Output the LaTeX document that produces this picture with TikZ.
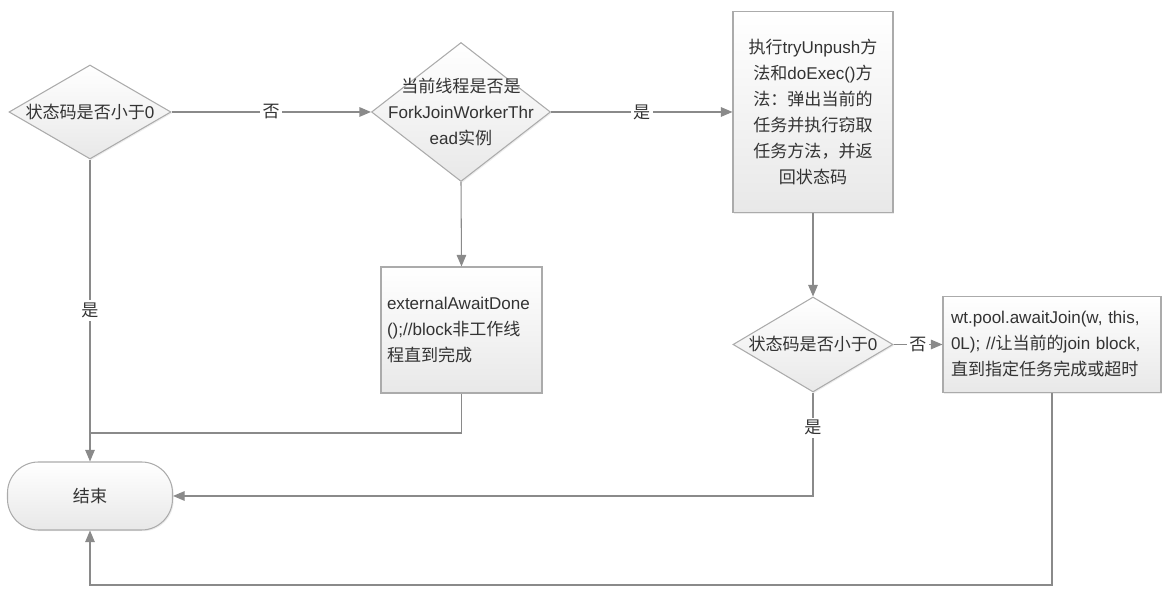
\documentclass[tikz,border=0pt]{standalone}
\usepackage{fontspec}
\setmainfont{Liberation Sans}
\newfontfamily\cjk{Noto Sans CJK SC}
\usetikzlibrary{shapes.geometric,arrows.meta,shadows}

\definecolor{linegray}{HTML}{8A8A8A}
\definecolor{boxgray}{HTML}{ABABAB}
\definecolor{textgray}{HTML}{333333}

\tikzset{
  box/.style={draw=boxgray, line width=0.6pt, top color=white, bottom color=black!9,
    inner sep=0pt, drop shadow={opacity=0.15, shadow xshift=0.7pt, shadow yshift=-0.7pt}},
  decision/.style={box, diamond},
  edgelbl/.style={fill=white, inner sep=1.5pt, font=\fontsize{9.7}{14.8}\cjk},
}

\begin{document}
\begin{tikzpicture}[scale=1.0, color=linegray, line width=0.6pt,
  >={Triangle[length=2.3mm,width=1.9mm]},
  every node/.style={text=textgray, font=\fontsize{9.7}{14.8}\selectfont}]
\useasboundingbox (0,0) rectangle (23.44,11.96);

% top row
\node[decision, minimum width=3.24cm, minimum height=1.88cm] (q1) at (1.80,9.72) {};
\node (q1t) at (q1) {{\cjk 状态码是否小于}0};
\node[decision, minimum width=3.58cm, minimum height=2.78cm] (q2) at (9.22,9.72) {};
\node[align=center] (q2t) at (q2) {{\cjk 当前线程是否是}\\ForkJoinWorkerThr\\ead{\cjk 实例}};
\node[box, minimum height=4.02cm, text width=3.2cm, align=center] (act) at (16.26,9.72)
  {{\cjk 执行}tryUnpush{\cjk 方}\\{\cjk 法和}doExec(){\cjk 方}\\{\cjk 法：弹出当前的}\\{\cjk 任务并执行窃取}\\{\cjk 任务方法，并返}\\{\cjk 回状态码}};

% middle row
\node[box, minimum height=2.52cm, inner xsep=0.12cm, text width=2.98cm, align=left] (ext) at (9.23,5.36)
  {externalAwaitDone\\();//block{\cjk 非工作线}\\{\cjk 程直到完成}};
\node[decision, minimum width=3.2cm, minimum height=1.9cm] (q3) at (16.26,5.07) {};
\node (q3t) at (q3) {{\cjk 状态码是否小于}0};
\node[box, minimum height=1.92cm, inner xsep=0.16cm, text width=4.04cm, align=left] (join) at (21.04,5.07)
  {wt.pool.awaitJoin(w, this,\\0L); //{\cjk 让当前的}join block,\\{\cjk 直到指定任务完成或超时}};

% end
\node[box, rounded corners=0.62cm, minimum width=3.3cm, minimum height=1.36cm] (end) at (1.80,2.04) {\cjk 结束};
\coordinate (mrg) at (1.80,3.30);
\coordinate (btm) at (1.80,0.26);

% connectors
\draw[->] (q1.east) -- node[edgelbl] {否} (q2.west);
\draw[->] (q2.east) -- node[edgelbl] {是} (act.west);
\draw[->] (q2.south) -- (ext.north);
\draw[->] (act.south) -- (q3.north);
\draw[->] (q3.east) -- node[edgelbl] {否} (join.west);
\draw[->] (q1.south) -- node[edgelbl] {是} (end.north);
\draw (ext.south) |- (mrg);
\draw[->] (q3.south) |- node[edgelbl, pos=0.17] {是} (end.east);
\draw[->] (join.south) |- (btm) -- (end.south);
\end{tikzpicture}
\end{document}
